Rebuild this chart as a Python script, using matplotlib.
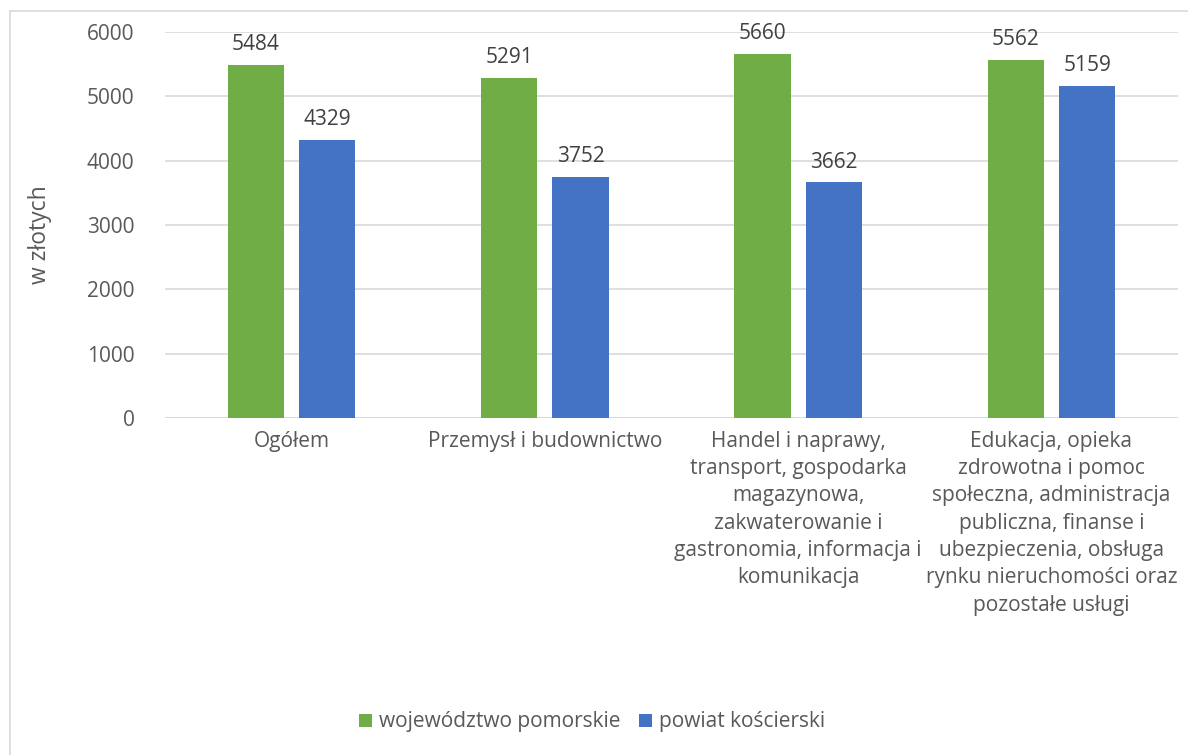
import matplotlib
matplotlib.use("Agg")
import matplotlib.pyplot as plt
import numpy as np
from matplotlib.lines import Line2D

plt.rcParams['font.family'] = ['Open Sans', 'DejaVu Sans']

categories = [
    "Ogółem",
    "Przemysł i budownictwo",
    "Handel i naprawy,\ntransport, gospodarka\nmagazynowa,\nzakwaterowanie i\ngastronomia, informacja i\nkomunikacja",
    "Edukacja, opieka\nzdrowotna i pomoc\nspołeczna, administracja\npubliczna, finanse i\nubezpieczenia, obsługa\nrynku nieruchomości oraz\npozostałe usługi",
]
series_names = ["województwo pomorskie", "powiat kościerski"]
pomorskie = [5484, 5291, 5660, 5562]
koscierski = [4329, 3752, 3662, 5159]
yticks = [0, 1000, 2000, 3000, 4000, 5000, 6000]

green = "#70AD47"
blue = "#4472C4"
txt = "#595959"

fig = plt.figure(figsize=(11.88, 7.55), dpi=100)
W, H = 1188, 755
ax = fig.add_axes([165 / W, 1 - 418 / H, (1178 - 165) / W, (418 - 32) / H])

x = np.arange(len(categories))
bw = 0.222
off = 0.141
b1 = ax.bar(x - off, pomorskie, bw, color=green, label=series_names[0], zorder=3)
b2 = ax.bar(x + off, koscierski, bw, color=blue, label=series_names[1], zorder=3)

for bars in (b1, b2):
    for r in bars:
        ax.annotate(f"{int(r.get_height())}", (r.get_x() + r.get_width() / 2, r.get_height()),
                    xytext=(0, 7), textcoords="offset points", ha="center", va="bottom",
                    fontsize=15, color="#404040")

ax.set_xlim(-0.5, len(categories) - 0.5)
ax.set_ylim(0, 6000)
ax.set_yticks(yticks)
ax.set_yticklabels([str(t) for t in yticks], fontsize=15, color=txt)
ax.set_xticks(x)
ax.set_xticklabels(categories, fontsize=15, color=txt, linespacing=1.4, va="top")
ax.tick_params(axis="both", length=0)
ax.tick_params(axis="y", pad=22)
ax.tick_params(axis="x", pad=9)
ax.grid(axis="y", color="#D9D9D9", linewidth=1.2, zorder=0)
for s in ax.spines.values():
    s.set_visible(False)
ax.axhline(0, color="#D9D9D9", linewidth=1.2, zorder=2)

fig.text(40 / W, 1 - 235 / H, "w złotych", rotation=90, ha="center", va="center",
         fontsize=16.5, color=txt)

fig.legend(handles=[b1, b2], labels=series_names, loc="center", bbox_to_anchor=(592 / W, 1 - 722 / H),
           ncol=2, frameon=False, fontsize=15, labelcolor=txt, handlelength=0.6, handleheight=0.6,
           handletextpad=0.35, columnspacing=0.9)

fig.add_artist(Line2D([10 / W, 1], [1 - 11 / H, 1 - 11 / H], transform=fig.transFigure,
                      color="#D9D9D9", linewidth=1.2))
fig.add_artist(Line2D([10 / W, 10 / W], [0, 1 - 11 / H], transform=fig.transFigure,
                      color="#D9D9D9", linewidth=1.2))

fig.savefig("out.png", dpi=100)
